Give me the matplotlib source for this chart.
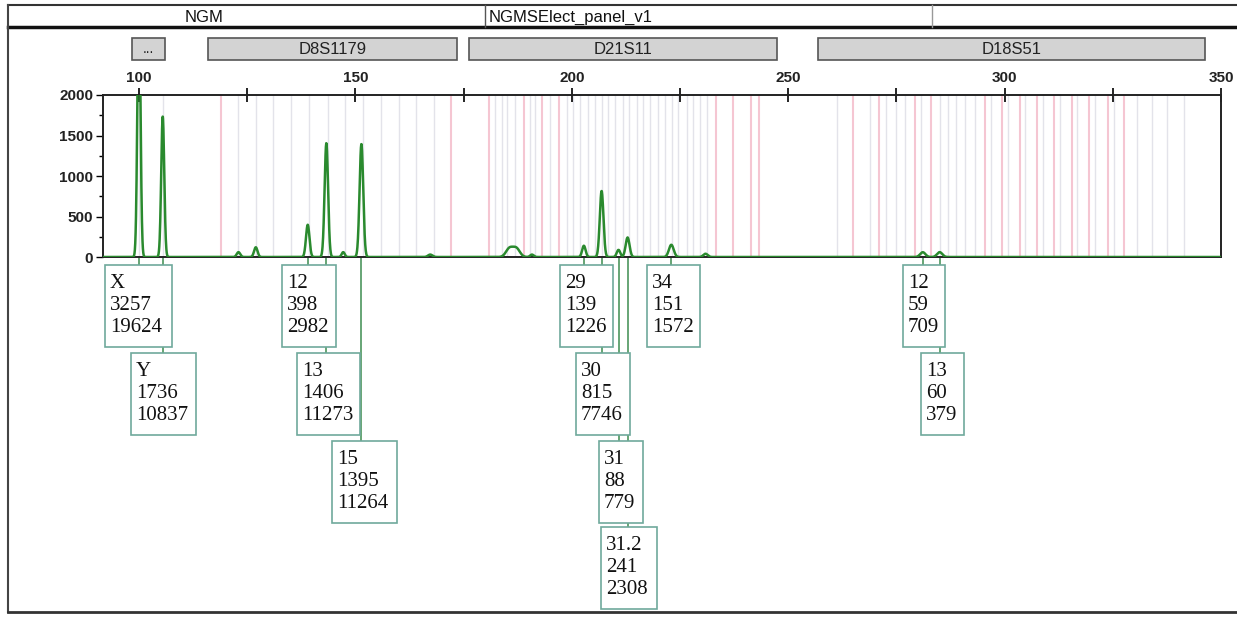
import matplotlib
matplotlib.use('Agg')
import matplotlib.pyplot as plt
import matplotlib.transforms as mtransforms
from matplotlib.patches import Rectangle
import numpy as np

# ---- data ----
loci = ['...', 'D8S1179', 'D21S11', 'D18S51']
loci_start = [98.4, 115.9, 176.3, 256.9]
loci_end = [106.0, 173.5, 247.5, 346.3]

# bins (bp)
bins_pink = [118.9, 172.0,
             180.8, 188.9, 193.1, 197.0, 233.3, 237.2, 241.3, 243.2,
             264.9, 270.9, 279.4, 283.1, 295.4, 299.3, 303.5, 307.4, 311.5,
             315.5, 319.6, 323.8, 327.7]
bins_gray = [100.0, 105.5,
             123.0, 127.0, 131.0, 135.1, 139.3, 143.6, 147.7, 151.8, 155.9,
             160.0, 164.0, 168.2,
             182.2, 183.8, 185.0, 186.8, 190.3, 191.5, 194.9, 198.8, 200.2,
             201.8, 203.7, 205.3, 206.9, 208.3, 209.9, 211.8, 213.2, 215.0,
             216.4, 218.0, 219.9, 221.5, 223.1, 224.5, 226.6, 227.9, 229.6,
             231.2, 261.2,
             268.8, 272.6, 274.9, 277.0, 280.6, 285.0, 286.9, 288.7, 290.8,
             293.1, 296.8, 300.7, 304.8, 308.8, 312.9, 316.8, 321.0, 325.3,
             330.6, 334.1, 337.6, 341.5]

# peaks in the green trace: position (bp), height (RFU), width (bp)
peak_bp = [100.0, 105.5, 123.0, 127.0, 139.0, 143.3, 147.2, 151.4, 167.3,
           185.6, 187.2, 190.8, 202.8, 206.9, 210.8, 212.9, 223.0, 230.9,
           281.1, 285.0]
peak_rfu = [3257, 1736, 60, 120, 398, 1406, 60, 1395, 30,
            105, 105, 30, 139, 815, 88, 241, 151, 40,
            59, 60]
peak_w = [0.35, 0.35, 0.4, 0.4, 0.4, 0.4, 0.35, 0.42, 0.5,
          0.8, 0.8, 0.4, 0.4, 0.42, 0.4, 0.45, 0.55, 0.5,
          0.6, 0.6]

# allele calls: allele, height, area, size
call_allele = ['X', 'Y', '12', '13', '15', '29', '30', '31', '31.2', '34', '12', '13']
call_height = [3257, 1736, 398, 1406, 1395, 139, 815, 88, 241, 151, 59, 60]
call_area = [19624, 10837, 2982, 11273, 11264, 1226, 7746, 779, 2308, 1572, 709, 379]
call_bp = [100.0, 105.5, 139.0, 143.3, 151.4, 202.8, 206.9, 210.8, 212.9, 223.0, 281.1, 285.0]

# label box layout (pixels)
box_row = [0, 1, 0, 1, 2, 0, 1, 2, 3, 0, 0, 1]
box_left = [105, 131, 282, 297, 332, 560, 576, 599, 601, 647, 903, 921]
box_right = [172, 196, 336, 360, 397, 613, 630, 643, 657, 700, 945, 964]
row_top = [265, 353, 441, 527]
box_h = 82

GREEN = '#2a8a2e'
LINK = '#5a9e6a'
BOXEDGE = '#6fa99c'

W, H = 1237, 617
fig = plt.figure(figsize=(W / 100, H / 100), dpi=100)
fig.patch.set_facecolor('white')

# overlay in pixel coordinates (y downward)
ov = fig.add_axes([0, 0, 1, 1], zorder=0)
ov.set_xlim(0, W)
ov.set_ylim(H, 0)
ov.axis('off')

ax = fig.add_axes([103 / W, (H - 257) / H, (1221 - 103) / W, (257 - 95) / H], zorder=2)
ax.set_xlim(91.7, 350)
ax.set_ylim(0, 2000)
ax.patch.set_alpha(0)

for b in bins_gray:
    ax.axvline(b, color='#e3e3ea', lw=1.0, zorder=1)
for b in bins_pink:
    ax.axvline(b, color='#f5c6d2', lw=1.5, zorder=1)

xs = np.linspace(91.7, 350, 6000)
trace = np.zeros_like(xs)
for p, h, w in zip(peak_bp, peak_rfu, peak_w):
    trace += h * np.exp(-0.5 * ((xs - p) / w) ** 2)
ax.plot(xs, trace, color=GREEN, lw=1.8, zorder=3)

ax.xaxis.tick_top()
ax.set_xticks([100, 150, 200, 250, 300, 350])
ax.set_xticks([125, 175, 225, 275, 325], minor=True)
ax.tick_params(axis='x', which='both', direction='inout', length=10, width=1.2,
               labelsize=11, pad=2, top=True, bottom=False)
ax.set_yticks([0, 500, 1000, 1500, 2000])
ax.set_yticks([250, 750, 1250, 1750], minor=True)
ax.tick_params(axis='y', which='major', direction='out', length=5, width=1, labelsize=11, pad=2)
ax.tick_params(axis='y', which='minor', direction='out', length=3, width=1)
for lab in ax.get_xticklabels() + ax.get_yticklabels():
    lab.set_fontfamily('Liberation Sans')
    lab.set_fontweight('bold')
    lab.set_color('#222222')
for s in ax.spines.values():
    s.set_linewidth(1.4)
    s.set_color('#222222')

# blended transform: x in bp, y in overlay pixels
bt = mtransforms.blended_transform_factory(ax.transData, ov.transData)

# header frame
ov.plot([8, W], [5, 5], color='#333333', lw=1.5)
ov.plot([8, W], [27, 27], color='#111111', lw=2.5)
ov.plot([8, 8], [5, 612], color='#444444', lw=1.5)
ov.plot([8, W], [612, 612], color='#333333', lw=2)
ov.plot([485, 485], [5, 27], color='#555555', lw=1)
ov.plot([932, 932], [5, 27], color='#999999', lw=1)
ov.text(204, 17, 'NGM', ha='center', va='center', fontsize=12,
        family='Liberation Sans', color='#111111')
ov.text(489, 17, 'NGMSElect_panel_v1', ha='left', va='center', fontsize=12,
        family='Liberation Sans', color='#111111')

# locus bars
for name, a, b in zip(loci, loci_start, loci_end):
    ov.add_patch(Rectangle((a, 38), b - a, 22, transform=bt, facecolor='#d3d3d3',
                           edgecolor='#555555', lw=1.2))
    ov.text((a + b) / 2, 49, name, transform=bt, ha='center', va='center',
            fontsize=12 if name != '...' else 10, family='Liberation Sans', color='#222222')

# allele label boxes and connectors
for i in range(len(call_allele)):
    top = row_top[box_row[i]]
    ov.plot([call_bp[i], call_bp[i]], [258, top], transform=bt, color=LINK, lw=1.3, zorder=1)
    ov.add_patch(Rectangle((box_left[i], top), box_right[i] - box_left[i], box_h,
                           facecolor='white', edgecolor=BOXEDGE, lw=1.2, zorder=2))
    lines = [call_allele[i], str(call_height[i]), str(call_area[i])]
    for k, t in enumerate(lines):
        ov.text(box_left[i] + 5, top + 19 + 22 * k, t, ha='left', va='center',
                fontsize=15, family='Liberation Serif', color='#111111', zorder=3)

fig.savefig('out.png', dpi=100)
